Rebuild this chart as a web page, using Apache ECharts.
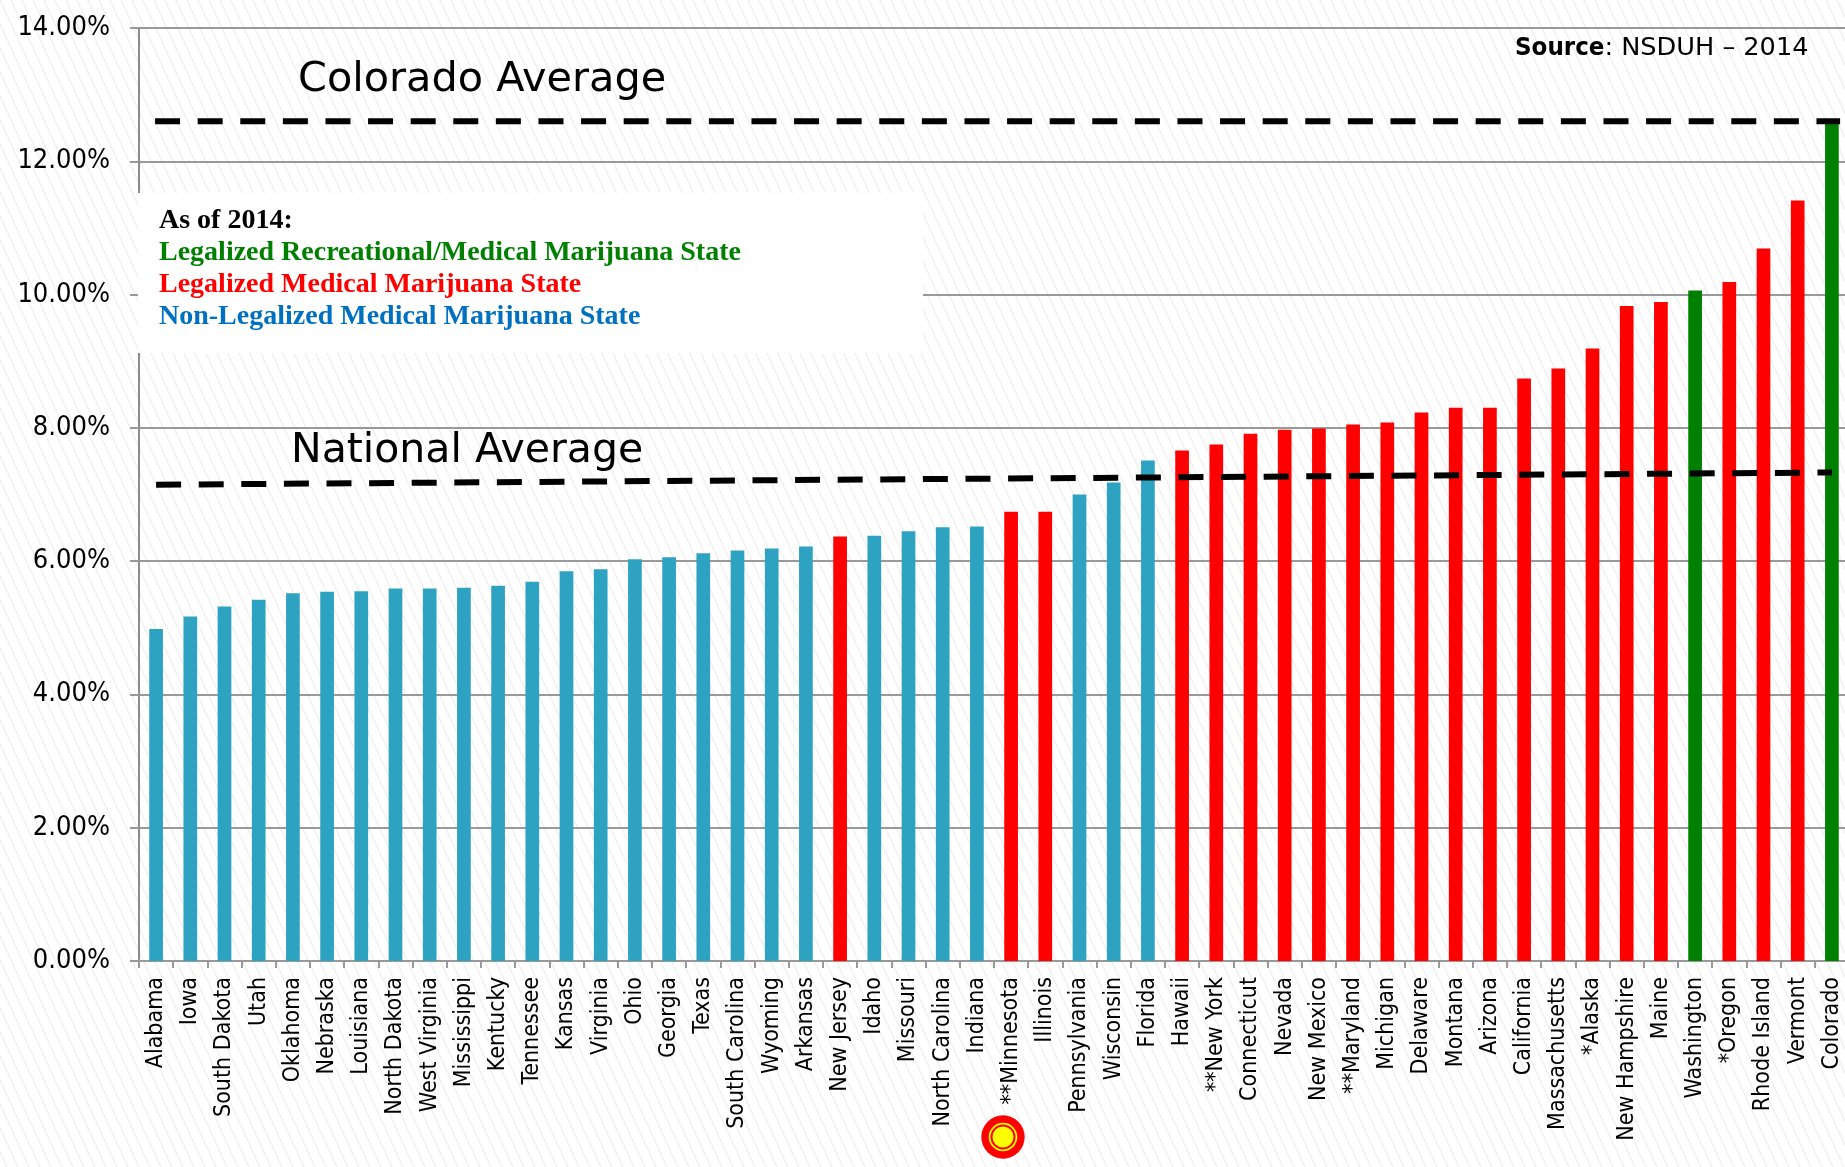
<!DOCTYPE html>
<html>
<head>
<meta charset="utf-8">
<style>html,body{margin:0;padding:0;background:#fff;width:1845px;height:1167px;overflow:hidden}#c{width:1860px;height:1167px}</style>
<script src="https://cdn.jsdelivr.net/npm/echarts@6/dist/echarts.min.js"></script>
</head>
<body>
<div id="c"></div>
<script>
const states = ['Alabama','Iowa','South Dakota','Utah','Oklahoma','Nebraska','Louisiana','North Dakota','West Virginia','Mississippi','Kentucky','Tennessee','Kansas','Virginia','Ohio','Georgia','Texas','South Carolina','Wyoming','Arkansas','New Jersey','Idaho','Missouri','North Carolina','Indiana','**Minnesota','Illinois','Pennsylvania','Wisconsin','Florida','Hawaii','**New York','Connecticut','Nevada','New Mexico','**Maryland','Michigan','Delaware','Montana','Arizona','California','Massachusetts','*Alaska','New Hampshire','Maine','Washington','*Oregon','Rhode Island','Vermont','Colorado'];
const usage = [4.98,5.17,5.32,5.42,5.52,5.54,5.55,5.59,5.59,5.60,5.63,5.69,5.85,5.88,6.03,6.06,6.12,6.16,6.19,6.22,6.37,6.38,6.45,6.51,6.52,6.74,6.74,7.00,7.18,7.51,7.66,7.75,7.91,7.97,7.99,8.05,8.08,8.23,8.30,8.30,8.74,8.89,9.19,9.83,9.89,10.06,10.19,10.69,11.41,12.57];
// N = not legalized, M = medical, R = recreational + medical
const status = ['N','N','N','N','N','N','N','N','N','N','N','N','N','N','N','N','N','N','N','N','M','N','N','N','N','M','M','N','N','N','M','M','M','M','M','M','M','M','M','M','M','M','M','M','M','R','M','M','M','R'];
const statusColor = {N:'#2ea3c1', M:'#ff0000', R:'#008000'};
const coloradoAverage = [[0.47,12.6],[49.74,12.6]];
const nationalAverage = [[0.5,7.147],[49.5,7.33]];
const legendLines = ['As of 2014:','Legalized Recreational/Medical Marijuana State','Legalized Medical Marijuana State','Non-Legalized Medical Marijuana State'];
const legendColors = ['#000000','#008000','#ff0000','#0070c0'];

const tile = document.createElement('canvas');
tile.width = 11; tile.height = 24;
const g = tile.getContext('2d');
g.fillStyle = '#ffffff'; g.fillRect(0,0,11,24);
g.strokeStyle = '#eeeeee'; g.lineWidth = 1.2;
[-11,0,11].forEach(o => { g.beginPath(); g.moveTo(o,0); g.lineTo(o+11,24); g.stroke(); });

const sansC = '"DejaVu Sans Condensed","DejaVu Sans"';
const chart = echarts.init(document.getElementById('c'), null, {renderer:'canvas'});
const avgLine = (name,data) => ({
  name, type:'line', xAxisIndex:1, data, showSymbol:false, symbol:'none', z:6, silent:true,
  lineStyle:{color:'#000',width:6,type:[25,17.6],cap:'butt'}
});
chart.setOption({
  animation:false,
  backgroundColor:{image:tile,repeat:'repeat'},
  grid:{left:139,top:28,width:1710,height:933,containLabel:false},
  xAxis:[{
    type:'category', data:states,
    axisLine:{lineStyle:{color:'#999',width:2}},
    axisTick:{show:true,length:7,lineStyle:{color:'#999',width:2}},
    axisLabel:{interval:0,rotate:90,margin:16,color:'#000',fontSize:23,fontFamily:sansC,padding:[4,0,0,0]},
    splitLine:{show:false}
  },{
    type:'value', min:0, max:50, show:false, splitLine:{show:false}
  }],
  yAxis:{
    type:'value', min:0, max:14, interval:2,
    axisLine:{show:true,lineStyle:{color:'#8c8c8c',width:2}},
    axisTick:{show:true,length:9,lineStyle:{color:'#999',width:2}},
    axisLabel:{margin:29,color:'#000',fontSize:27,fontFamily:sansC,formatter:v=>v.toFixed(2)+'%'},
    splitLine:{show:true,lineStyle:{color:'#999',width:2}}
  },
  series:[
    {type:'bar',name:'Usage',barWidth:13.7,z:3,
     data:usage.map((v,i)=>({value:v,itemStyle:{color:statusColor[status[i]]}}))},
    avgLine('Colorado Average',coloradoAverage),
    avgLine('National Average',nationalAverage)
  ],
  graphic:[
    {type:'rect',z:10,shape:{x:138,y:193,width:785,height:160},style:{fill:'#fff'}},
    ...legendLines.map((t,i)=>({type:'text',z:11,x:159,y:[221,253,285,317][i],
      style:{text:t,fill:legendColors[i],font:'bold 28px "Liberation Serif"',textVerticalAlign:'middle',textAlign:'left'}})),
    {type:'text',z:11,x:298,y:80,style:{text:'Colorado Average',fill:'#000',font:'41.4px "DejaVu Sans"',textVerticalAlign:'middle'}},
    {type:'text',z:11,x:291,y:451,style:{text:'National Average',fill:'#000',font:'41px "DejaVu Sans"',textVerticalAlign:'middle'}},
    {type:'text',z:11,x:1515,y:48,style:{
      rich:{b:{font:'bold 25.6px "DejaVu Sans Condensed","DejaVu Sans"',fill:'#000'},r:{font:'25.6px "DejaVu Sans"',fill:'#000'}},
      text:'{b|Source}{r|: NSDUH – 2014}',textVerticalAlign:'middle'}},
    {type:'circle',z:11,shape:{cx:1003,cy:1137,r:21.7},style:{fill:'#ff0000'}},
    {type:'circle',z:11,shape:{cx:1003,cy:1137,r:14.3},style:{fill:'#ffff00'}},
    {type:'circle',z:11,shape:{cx:1003,cy:1137,r:12.5},style:{fill:'#ff0000'}},
    {type:'circle',z:11,shape:{cx:1003,cy:1137,r:10.5},style:{fill:'#ffff00'}}
  ]
});
</script>
</body>
</html>
